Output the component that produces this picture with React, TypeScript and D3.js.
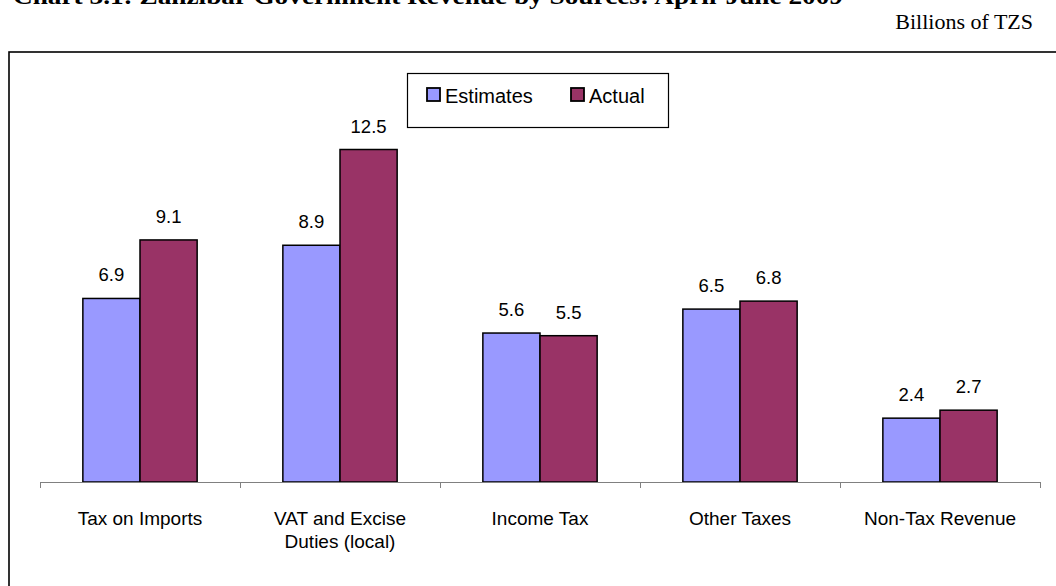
import React from "react";
import * as d3 from "d3";

const categories: string[][] = [
  ["Tax on Imports"],
  ["VAT and Excise", "Duties (local)"],
  ["Income Tax"],
  ["Other Taxes"],
  ["Non-Tax Revenue"],
];
const estimates = [6.9, 8.9, 5.6, 6.5, 2.4];
const actual = [9.1, 12.5, 5.5, 6.8, 2.7];
const seriesNames = ["Estimates", "Actual"];
const seriesColors = ["#9999FF", "#993366"];
const title = "Chart 3.1: Zanzibar Government Revenue by Sources: April-June 2009";
const unitLabel = "Billions of TZS";

export default function App() {
  const W = 1056, H = 586;
  const x0 = 40, x1 = 1040, baseY = 482;
  const keys = categories.map((_, i) => String(i));
  const x = d3.scaleBand<string>().domain(keys).range([x0, x1]).paddingInner(0).paddingOuter(0);
  const y = d3.scaleLinear().domain([0, 14]).range([baseY, baseY - 14 * 26.6]);
  const bw = x.bandwidth();
  const barW = bw / 3.5;
  const series = [estimates, actual];

  return (
    <svg width={W} height={H} style={{ position: "absolute", left: 0, top: 0, background: "#fff" }}>
      <text x={13} y={4} fontFamily="'Liberation Serif', 'Times New Roman', serif" fontWeight="bold" fontSize={24} textLength={830} lengthAdjust="spacingAndGlyphs">{title}</text>
      <text x={1033} y={29} textAnchor="end" fontFamily="'Liberation Serif', 'Times New Roman', serif" fontSize={22}>{unitLabel}</text>
      <rect x={9} y={52} width={1100} height={600} fill="none" stroke="#000" strokeWidth={1.6} />

      {series.map((vals, s) =>
        vals.map((v, i) => {
          const bx = (x(keys[i]) as number) + bw / 2 - barW + s * barW;
          return (
            <g key={`${s}-${i}`}>
              <rect x={bx} y={y(v)} width={barW} height={baseY - y(v)} fill={seriesColors[s]} stroke="#000" strokeWidth={1.5} />
              <text x={bx + barW / 2} y={y(v) - 17} textAnchor="middle" fontFamily="'Liberation Sans', Arial, sans-serif" fontSize={18.5} fill="#000">{v.toFixed(1)}</text>
            </g>
          );
        })
      )}

      <line x1={x0} x2={x1} y1={baseY + 0.5} y2={baseY + 0.5} stroke="#808080" strokeWidth={1} />
      {keys.concat(["end"]).map((k, i) => {
        const tx = i < keys.length ? (x(k) as number) : x1;
        return <line key={k} x1={tx + 0.5} x2={tx + 0.5} y1={baseY} y2={baseY + 6} stroke="#808080" strokeWidth={1} />;
      })}
      {categories.map((lines, i) => (
        <text key={i} textAnchor="middle" fontFamily="'Liberation Sans', Arial, sans-serif" fontSize={19} fill="#000">
          {lines.map((l, j) => (
            <tspan key={j} x={(x(keys[i]) as number) + bw / 2} y={525 + j * 23}>{l}</tspan>
          ))}
        </text>
      ))}

      <rect x={407.5} y={73.5} width={261} height={54} fill="#fff" stroke="#000" strokeWidth={1.2} />
      {seriesNames.map((n, s) => {
        const lx = s === 0 ? 427 : 571;
        return (
          <g key={n}>
            <rect x={lx} y={88} width={13} height={13} fill={seriesColors[s]} stroke="#000" strokeWidth={1.8} />
            <text x={lx + 18} y={102.5} fontFamily="'Liberation Sans', Arial, sans-serif" fontSize={20} fill="#000">{n}</text>
          </g>
        );
      })}
    </svg>
  );
}
